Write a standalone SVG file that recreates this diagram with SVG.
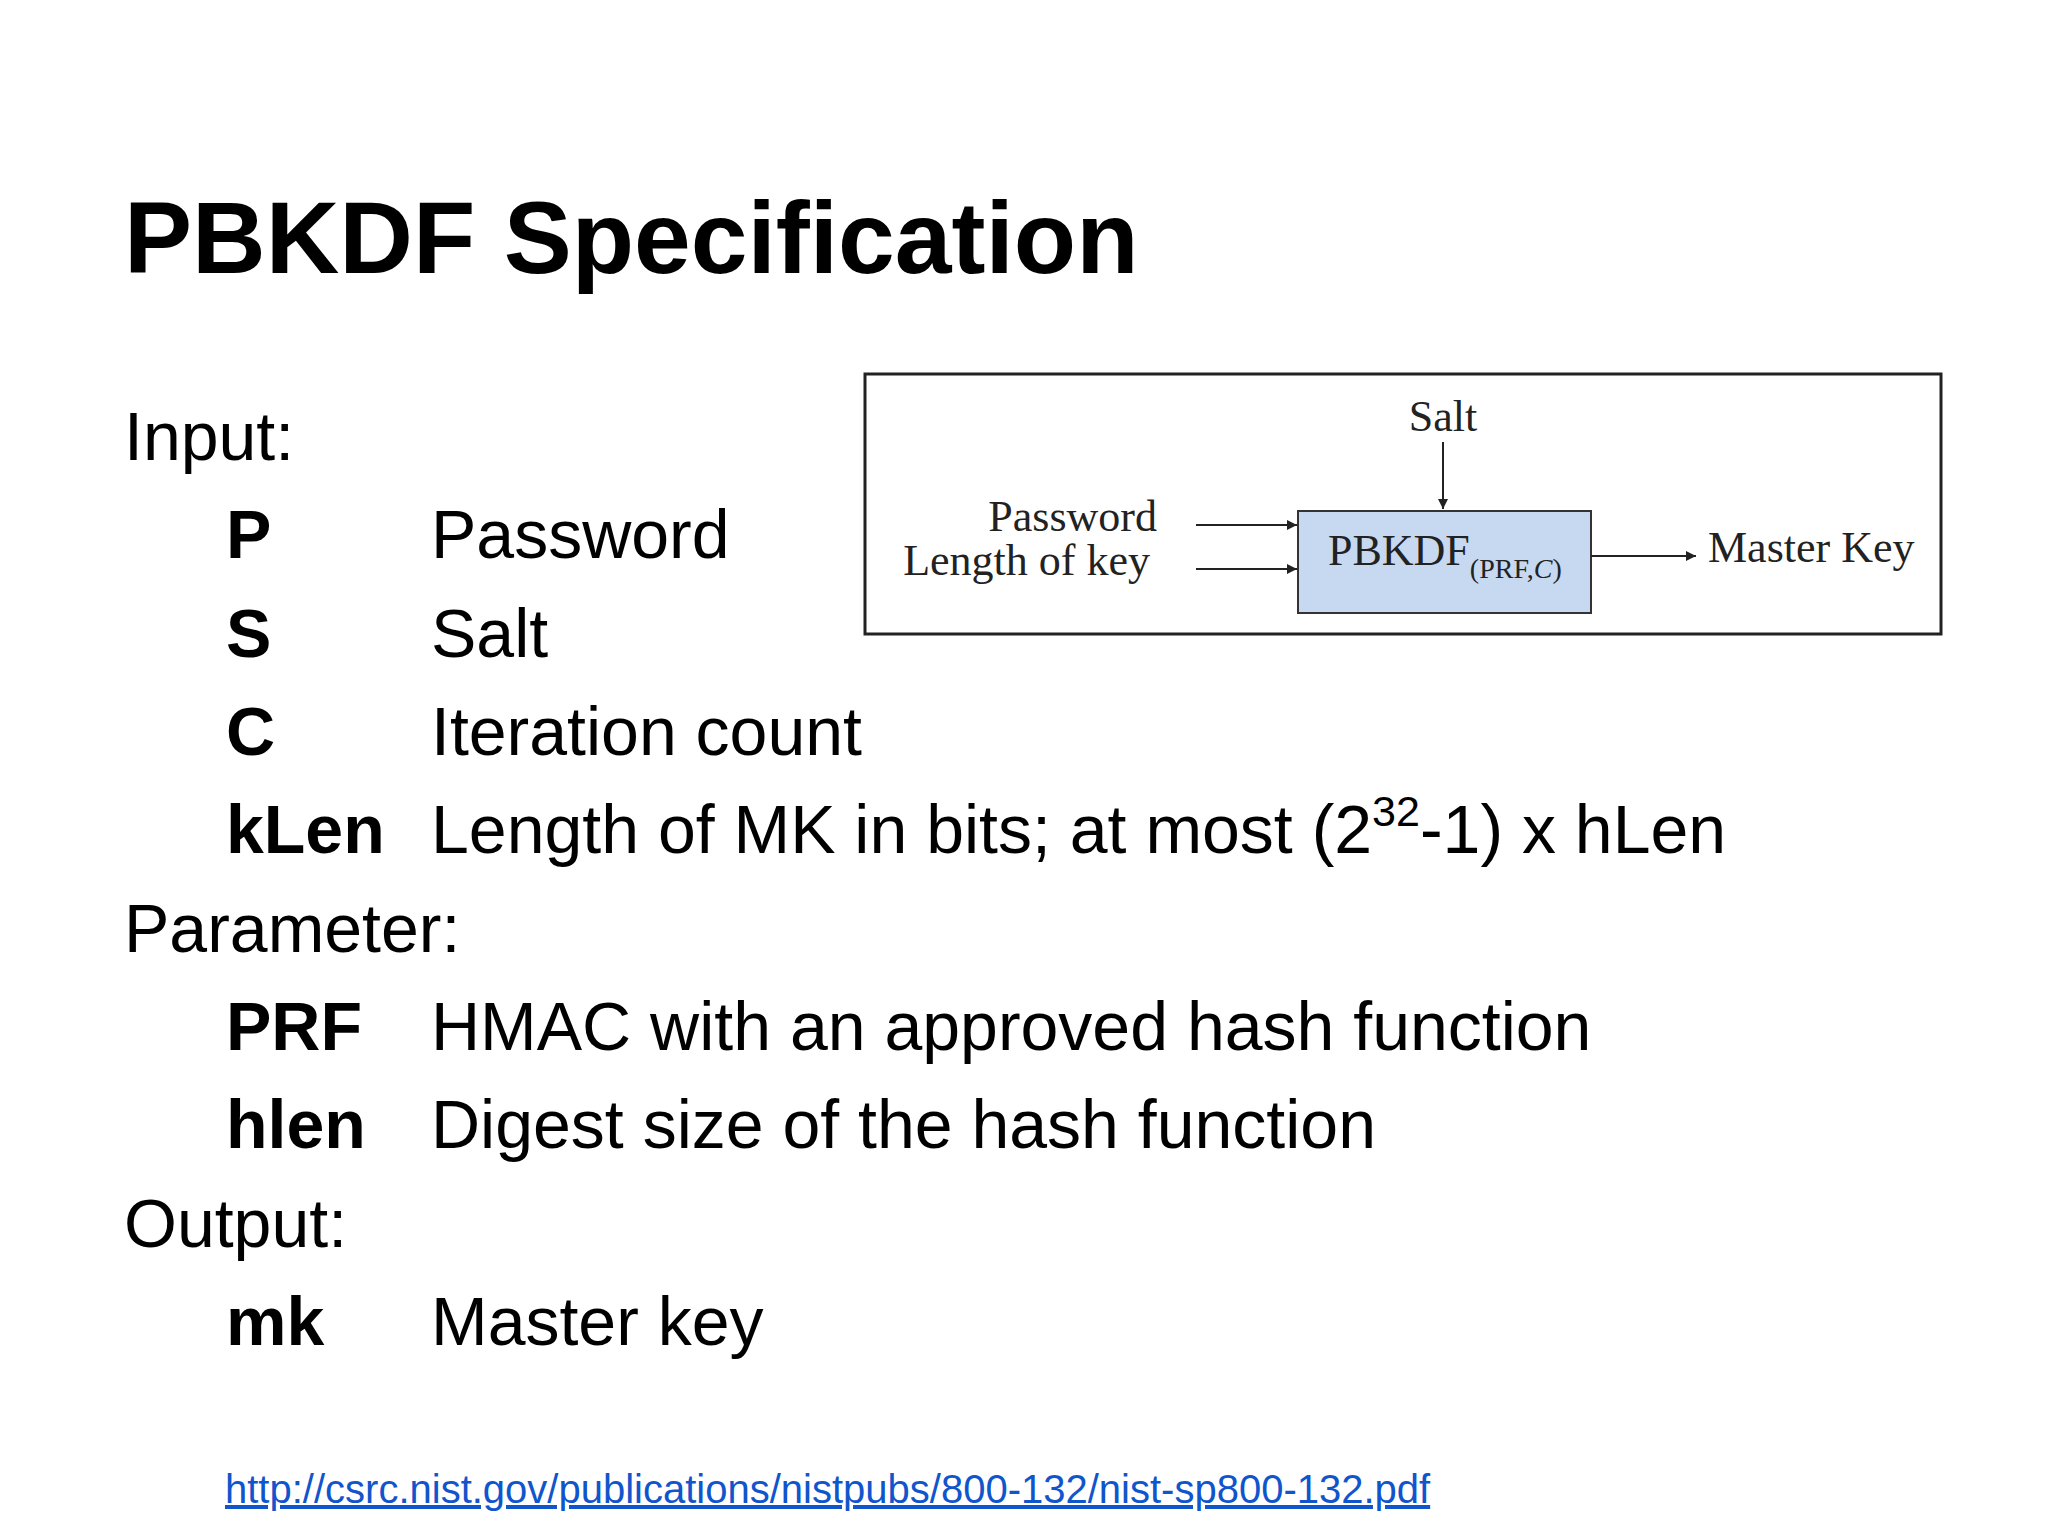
<svg xmlns="http://www.w3.org/2000/svg" width="2048" height="1536" viewBox="0 0 2048 1536">
<defs>
<style>
.t{font-family:"Liberation Sans",Arial,sans-serif;fill:#000}
.b{font-size:68px}
.k{font-weight:bold}
.s{font-family:"Liberation Serif","Times New Roman",serif;fill:#222;font-size:44px}
.c{stroke:#222;stroke-width:2;fill:none}
</style>
<marker id="a" viewBox="0 0 10 10" refX="10" refY="5" markerWidth="10" markerHeight="10" markerUnits="userSpaceOnUse" orient="auto"><path d="M0,0L10,5L0,10z" fill="#222"/></marker>
</defs>
<rect width="2048" height="1536" fill="#fff"/>
<text class="t k" x="124" y="273" font-size="102">PBKDF Specification</text>
<g class="t b">
<text x="124" y="460">Input:</text>
<text x="226" y="558" class="k">P</text><text x="431" y="558">Password</text>
<text x="226" y="657" class="k">S</text><text x="431" y="657">Salt</text>
<text x="226" y="755" class="k">C</text><text x="431" y="755">Iteration count</text>
<text x="226" y="853" class="k">kLen</text><text x="431" y="853">Length of MK in bits; at most (2<tspan dy="-27" font-size="43">32</tspan><tspan dy="27">-1) x hLen</tspan></text>
<text x="124" y="952">Parameter:</text>
<text x="226" y="1050" class="k">PRF</text><text x="431" y="1050">HMAC with an approved hash function</text>
<text x="226" y="1148" class="k">hlen</text><text x="431" y="1148">Digest size of the hash function</text>
<text x="124" y="1247">Output:</text>
<text x="226" y="1345" class="k">mk</text><text x="431" y="1345">Master key</text>
</g>
<text class="t" x="225" y="1503" font-size="40" style="fill:#1155cc" text-decoration="underline">http://csrc.nist.gov/publications/nistpubs/800-132/nist-sp800-132.pdf</text>
<g id="frame"><rect x="865" y="374" width="1076" height="260" fill="#fff" stroke="#222" stroke-width="3"/></g>
<g id="pbkdf"><rect x="1298" y="511" width="293" height="102" fill="#c6d9f1" stroke="#333" stroke-width="2"/>
<text class="s" x="1328" y="565" font-size="43">PBKDF<tspan font-size="28" dy="13">(PRF,</tspan><tspan font-size="28" font-style="italic">C</tspan><tspan font-size="28">)</tspan></text></g>
<g id="salt"><text class="s" x="1443" y="431" text-anchor="middle">Salt</text></g>
<g id="password"><text class="s" x="1157" y="531" text-anchor="end">Password</text></g>
<g id="length"><text class="s" x="1150" y="575" text-anchor="end">Length of key</text></g>
<g id="masterkey"><text class="s" x="1708" y="562">Master Key</text></g>
<g id="connectors">
<line class="c" x1="1443" y1="442" x2="1443" y2="509" marker-end="url(#a)"/>
<line class="c" x1="1196" y1="525" x2="1297" y2="525" marker-end="url(#a)"/>
<line class="c" x1="1196" y1="569" x2="1297" y2="569" marker-end="url(#a)"/>
<line class="c" x1="1591" y1="556" x2="1696" y2="556" marker-end="url(#a)"/>
</g>
</svg>
